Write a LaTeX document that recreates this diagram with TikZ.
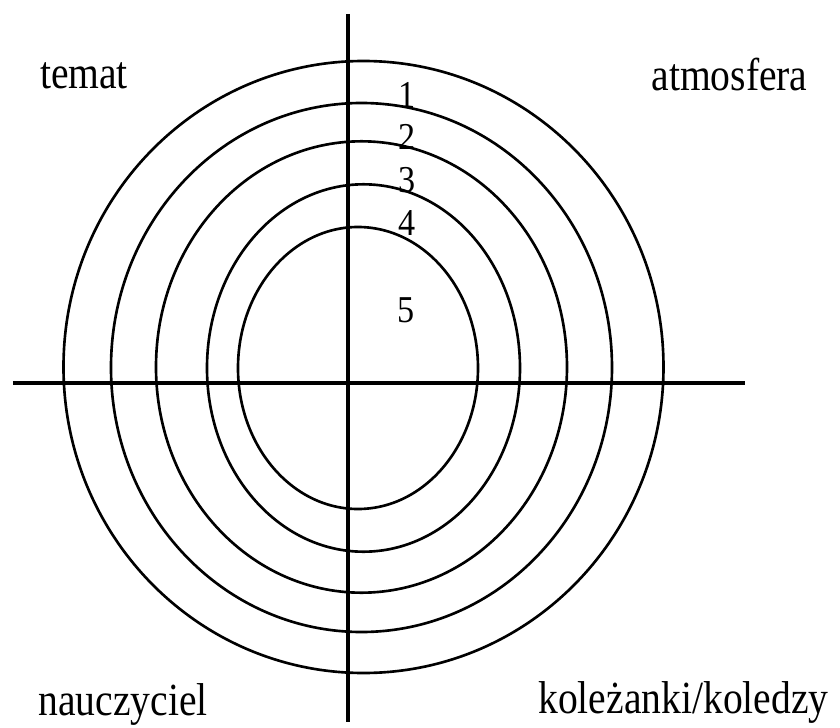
\documentclass[tikz,border=0pt]{standalone}
\usepackage{fontspec}
\setmainfont{Liberation Serif}
\usepackage{tikz}
\usetikzlibrary{positioning}
\tikzset{
  tarcza/ring/.style={draw=black, line width=0.75pt},
  tarcza/axis/.style={draw=black, line width=1.05pt},
  tarcza/label/.style={
    anchor=base,
    inner sep=0pt,
    xscale=0.86,
    font=\fontsize{13.1}{15}\selectfont
  },
  tarcza/num/.style={
    inner sep=0pt,
    xscale=0.9,
    font=\fontsize{10.8}{12}\selectfont
  }
}

\begin{document}
\begin{tikzpicture}[x=1cm,y=1cm]
  \useasboundingbox (-3.48,3.83) rectangle (4.92,-3.44);
  % rings
  \foreach \cx/\cy/\rx/\ry in {0.155/0.16/3.00/3.06, 0.135/0.155/2.505/2.645,
      0.135/0.16/2.055/2.257, 0.155/0.15/1.565/1.837, 0.10/0.15/1.20/1.41}{
    \draw[tarcza/ring] (\cx,\cy) ellipse [x radius=\rx, y radius=\ry];
  }
  % axes
  \coordinate (top) at (0,3.69);
  \coordinate (bottom) at (0,-3.39);
  \coordinate (left) at (-3.35,0);
  \coordinate (right) at (3.97,0);
  \draw[tarcza/axis] (top) -- (bottom);
  \draw[tarcza/axis] (left) -- (right);
  % ring numbers
  \node[tarcza/num] (n1) at (0.59,2.88) {1};
  \node[tarcza/num] (n2) at (0.59,2.46) {2};
  \node[tarcza/num] (n3) at (0.59,2.03) {3};
  \node[tarcza/num] (n4) at (0.59,1.60) {4};
  \node[tarcza/num] (n5) at (0.585,0.73) {5};
  % corner labels
  \node[tarcza/label] (temat) at (-2.64,2.95) {temat};
  \node[tarcza/label] (atmosfera) at (3.815,2.93) {atmosfera};
  \node[tarcza/label] (nauczyciel) at (-2.25,-3.32) {nauczyciel};
  \node[tarcza/label] (kolezanki) at (3.355,-3.30) {koleżanki/koledzy};
\end{tikzpicture}
\end{document}
